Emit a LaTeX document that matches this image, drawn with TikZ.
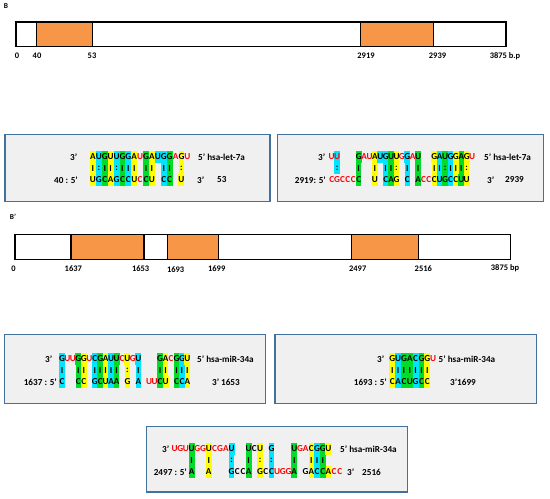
\documentclass[tikz,border=0pt]{standalone}
\usepackage{fontspec}
\setmainfont{Carlito}
\definecolor{hy}{RGB}{255,255,0}
\definecolor{hc}{RGB}{0,228,255}
\definecolor{hg}{RGB}{0,220,40}
\definecolor{hred}{RGB}{255,0,0}
\definecolor{orng}{RGB}{247,150,70}
\definecolor{boxline}{RGB}{65,113,156}
\definecolor{boxfill}{RGB}{240,240,240}
\newcommand\rd{\color{hred}}
\newcommand\seqfont{\bfseries\fontsize{9.2}{11}\selectfont}
\newcommand\numfont{\bfseries\fontsize{8.5}{10}\selectfont}
\tikzset{
  cell/.style={inner sep=0pt, outer sep=0pt, minimum height=11.6bp, font=\seqfont, anchor=center},
  lbl/.style={inner sep=0pt, font=\seqfont},
  num/.style={inner sep=0pt, font=\numfont},
  seqbox/.style={draw=boxline, line width=1.3bp, fill=boxfill},
  bar/.style={draw=black, line width=1.1bp, fill=white},
  seg/.style={draw=black, line width=1.1bp, fill=orng}
}
% prefix, x0, y0, column width, list
\newcommand\alg[5]{%
  \foreach \i/\T/\ftop/\S/\fsym/\B/\fbot in {#5}{
    \node[cell,minimum width=#4bp,fill=\ftop] (#1t\i) at ({#2+(\i-0.5)*#4},{#3}) {\T};
    \node[cell,minimum width=#4bp,fill=\fsym] (#1s\i) at ({#2+(\i-0.5)*#4},{#3+11.5}) {\S};
    \node[cell,minimum width=#4bp,fill=\fbot] (#1b\i) at ({#2+(\i-0.5)*#4},{#3+23}) {\B};
  }}
\begin{document}
\begin{tikzpicture}[x=1bp,y=-1bp]
\useasboundingbox (0,0) rectangle (550,499);

% ---------- panel B ----------
\node[num,font=\bfseries\fontsize{7.5}{9}\selectfont] (labB) at (6,6) {B};
\draw[bar] (16,22) rectangle (506,46.5);
\draw[seg] (36.7,22) rectangle (92.7,46.5);
\draw[seg] (360.7,22) rectangle (433.3,46.5);
\node[num] (b0) at (17,56) {0};
\node[num] (b40) at (37,56) {40};
\node[num] (b53) at (92,56) {53};
\node[num] (b2919) at (366,56) {2919};
\node[num] (b2939) at (437.5,56) {2939};
\node[num] (bend) at (505,56) {3875 b.p};

\draw[seqbox] (5,134.3) rectangle (270,201.5);
\draw[seqbox] (277.5,134.3) rectangle (543.3,201.5);

% box 1
\node[lbl,anchor=west] (a3) at (70,157) {3’};
\node[lbl,anchor=west] (a5) at (198,157) {5’ hsa-let-7a};
\node[lbl,anchor=east] (a40) at (78,180) {40 : 5’};
\node[lbl,anchor=west] (a3b) at (197,180) {3’};
\node[lbl,anchor=west] (a53) at (217,180) {53};
\alg{a}{90}{157}{5.9}{
1/A/hy/I/hy/U/hy,
2/U/hc/:/hc/G/hc,
3/G/hg/I/hg/C/hg,
4/U/hy/I/hy/A/hy,
5/U/hc/:/hc/G/hc,
6/G/hg/I/hg/C/hg,
7/G/hc/I/hc/C/hc,
8/A/hy/I/hy/U/hy,
9/{\rd U}/none/{}/none/{\rd C}/none,
10/G/hg/I/hg/C/hg,
11/A/hy/I/hy/U/hy,
12/U/hc/{}/none/{}/none,
13/G/hc/I/hc/C/hc,
14/G/hg/I/hg/C/hg,
15/{\rd A}/none/{}/none/{}/none,
16/G/hy/:/hy/U/hy,
17/{\rd U}/none/{}/none/{}/none}

% box 2
\node[lbl,anchor=west] (b3) at (318,157) {3’};
\node[lbl,anchor=west] (b5) at (484,157) {5’ hsa-let-7a};
\node[lbl,anchor=east] (b2919l) at (326,180) {2919: 5’};
\node[lbl,anchor=west] (b3b) at (487,180) {3’};
\node[lbl,anchor=west] (b2939l) at (505,180) {2939};
\alg{b}{329}{157}{5.4}{
1/{\rd U}/none/{}/none/{\rd C}/none,
2/{\rd U}/hc/:/hc/{\rd G}/none,
3/{}/none/{}/none/{\rd C}/none,
4/{}/none/{}/none/{\rd C}/none,
5/{}/none/{}/none/{\rd C}/none,
6/G/hg/I/hg/C/hg,
7/{\rd A}/none/{}/none/{}/none,
8/{\rd U}/none/{}/none/{}/none,
9/A/hy/I/hy/U/hy,
10/U/hc/{}/none/{}/none,
11/G/hc/I/hc/C/hc,
12/U/hg/I/hg/A/hg,
13/U/hy/:/hy/G/hy,
14/{\rd G}/none/{}/none/{}/none,
15/G/hc/I/hc/C/hc,
16/{\rd A}/none/{}/none/{}/none,
17/U/hg/I/hg/A/hg,
18/{}/none/{}/none/{\rd C}/none,
19/{}/none/{}/none/{\rd C}/none,
20/G/hy/I/hy/C/hy,
21/A/hc/I/hc/U/hc,
22/U/hg/:/hg/G/hg,
23/G/hc/I/hc/C/hc,
24/G/hy/I/hy/C/hy,
25/A/hg/I/hg/U/hg,
26/G/hy/:/hy/U/hy,
27/{\rd U}/none/{}/none/{}/none}

% ---------- panel B' ----------
\node[num,font=\bfseries\fontsize{7.5}{9}\selectfont] (labBp) at (13,217) {B’};
\draw[bar] (15,234.3) rectangle (510.7,259.3);
\draw[seg] (71,234.3) rectangle (144,259.3);
\draw[seg] (167.3,234.3) rectangle (218.7,259.3);
\draw[seg] (351.7,234.3) rectangle (418.3,259.3);
\node[num] (c0) at (13.5,268.5) {0};
\node[num] (c1637) at (73.3,268.5) {1637};
\node[num] (c1653) at (140.7,268.5) {1653};
\node[num] (c1693) at (175.7,269.5) {1693};
\node[num] (c1699) at (216.7,268.5) {1699};
\node[num] (c2497) at (357.7,268.5) {2497};
\node[num] (c2516) at (423.3,268.5) {2516};
\node[num] (cend) at (505,268.5) {3875 bp};

\draw[seqbox] (4.5,334.3) rectangle (265.7,403.5);
\draw[seqbox] (275,334.3) rectangle (536.7,403.5);
\draw[seqbox] (146.7,426.7) rectangle (407.7,492);

% box 3
\node[lbl,anchor=west] (c3) at (45,359) {3’};
\node[lbl,anchor=west] (c5) at (197,359) {5’ hsa-miR-34a};
\node[lbl,anchor=east] (c1637l) at (57,382) {1637 : 5’};
\node[lbl,anchor=west] (c3b) at (212,382) {3’};
\node[lbl,anchor=west] (c1653l) at (221,382) {1653};
\alg{c}{59.3}{359}{5.45}{
1/G/hc/I/hc/C/hc,
2/{\rd U}/none/{}/none/{}/none,
3/{\rd U}/none/{}/none/{}/none,
4/G/hg/I/hg/C/hg,
5/G/hy/I/hy/C/hy,
6/{\rd U}/none/{}/none/{}/none,
7/C/hc/I/hc/G/hc,
8/G/hg/I/hg/C/hg,
9/A/hy/I/hy/U/hy,
10/U/hc/I/hc/A/hc,
11/U/hg/I/hg/A/hg,
12/{\rd C}/none/{}/none/{}/none,
13/U/hy/:/hy/G/hy,
14/{\rd G}/none/{}/none/{}/none,
15/U/hc/I/hc/A/hc,
17/{}/none/{}/none/{\rd U}/none,
18/{}/none/{}/none/{\rd U}/none,
19/G/hg/I/hg/C/hg,
20/A/hy/I/hy/U/hy,
21/{\rd C}/none/{}/none/{}/none,
22/G/hg/I/hg/C/hg,
23/G/hc/I/hc/C/hc,
24/U/hy/I/hy/A/hy}

% box 4
\node[lbl,anchor=west] (d3) at (377,359) {3’};
\node[lbl,anchor=west] (d5) at (438.5,359) {5’ hsa-miR-34a};
\node[lbl,anchor=east] (d1693l) at (387,382) {1693 : 5’};
\node[lbl,anchor=west] (d1699l) at (450,382) {3’1699};
\alg{d}{389.3}{359}{5.85}{
1/G/hy/I/hy/C/hy,
2/U/hc/I/hc/A/hc,
3/G/hg/I/hg/C/hg,
4/A/hg/I/hg/U/hg,
5/C/hc/I/hc/G/hc,
6/G/hg/I/hg/C/hg,
7/G/hy/I/hy/C/hy,
8/{\rd U}/none/{}/none/{}/none}

% box 5
\node[lbl,anchor=west] (e3) at (162,449) {3’};
\node[lbl,anchor=west] (e5) at (340,449) {5’ hsa-miR-34a};
\node[lbl,anchor=east] (e2497l) at (187,472) {2497 : 5’};
\node[lbl,anchor=west] (e3b) at (347,472) {3’};
\node[lbl,anchor=west] (e2516l) at (362,472) {2516};
\alg{e}{171.7}{449}{5.7}{
1/{\rd U}/none/{}/none/{}/none,
2/{\rd G}/none/{}/none/{}/none,
3/{\rd U}/none/{}/none/{}/none,
4/U/hg/I/hg/A/hg,
5/{\rd G}/none/{}/none/{}/none,
6/{\rd G}/none/{}/none/{}/none,
7/U/hy/I/hy/A/hy,
8/{\rd C}/none/{}/none/{}/none,
9/{\rd G}/none/{}/none/{}/none,
10/{\rd A}/none/{}/none/{}/none,
11/U/hc/:/hc/G/hc,
12/{}/none/{}/none/C/none,
13/{}/none/{}/none/C/none,
14/U/hg/I/hg/A/hg,
15/C/none/{}/none/{}/none,
16/U/hy/:/hy/G/hy,
17/{}/none/{}/none/C/none,
18/G/hc/:/hc/C/hc,
19/{}/none/{}/none/{\rd U}/none,
20/{}/none/{}/none/{\rd G}/none,
21/{}/none/{}/none/{\rd G}/none,
22/U/hg/I/hg/A/hg,
23/{\rd G}/none/{}/none/{}/none,
24/{\rd A}/none/{}/none/G/none,
25/C/hy/I/hy/A/hy,
26/G/hc/I/hc/C/hc,
27/G/hg/I/hg/C/hg,
28/U/hy/{}/none/A/hy,
29/{}/none/{}/none/{\rd C}/none,
30/{}/none/{}/none/{\rd C}/none}
\end{tikzpicture}
\end{document}
